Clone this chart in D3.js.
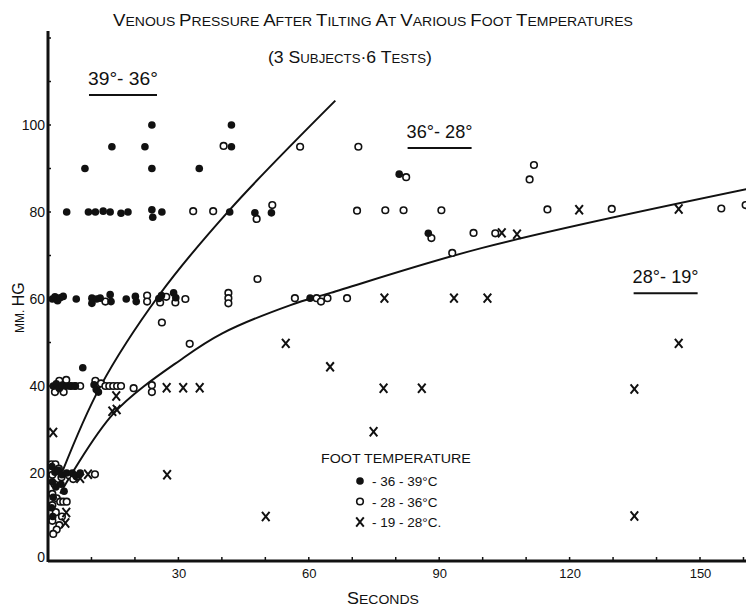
<!DOCTYPE html>
<html>
<head>
<meta charset="utf-8">
<script src="https://cdn.jsdelivr.net/npm/d3@7"></script>
<style>
  html, body { margin: 0; padding: 0; background: #fff; }
  svg { display: block; }
  text { font-family: "Liberation Sans", "DejaVu Sans", sans-serif; fill: #111; }
</style>
</head>
<body>
<svg id="chart" width="746" height="607"></svg>
<script>
// ---------------- DATA ----------------
// [seconds, mm Hg]
const warm = [ // 36-39 °C, filled dots
  [23.9,100],[42.2,100],
  [14.7,95],[22.3,95],[42.2,95],
  [8.5,90],[23.9,90],[34.8,90],
  [80.8,88.7],[87.5,75.1],
  [4.3,80],[9.3,80],[10.9,80],[12.7,80.2],[14.3,80],[16.8,79.7],[18.4,80],[23.9,80.5],[24.1,78.8],[26.2,80],[41.8,80],[47.6,79.8],[51.4,79.8],
  [60.3,60.2],
  [1.0,60],[1.6,60.5],[2.2,59.6],[2.8,60.3],[3.5,60.6],[6.5,60],[10.1,60.2],[10.1,59],[11.2,60],[12.0,60.2],[14.3,61],[14.5,59.4],[18.0,60],[20.1,60.6],[20.3,59.4],[25.5,60.1],[26.1,60.8],[28.9,61.4],[29.4,60.3],
  [8.0,44.2],
  [1.2,40],[1.9,40.5],[2.6,39.4],[3.3,40.2],[4.4,40],[5.4,40],[6.3,40],[10.6,40.3],[11.1,39.2],[11.6,38.6],
  [0.9,21.5],[1.6,20.2],[2.4,20.6],[3.2,19.6],[4.3,20],[5.6,20],[6.4,19.4],[7.4,20],[1.0,18],[1.8,16.8],[3.0,17.4],[3.7,15.8],[1.2,14.4],[0.8,12],[1.1,10]
];
const medium = [ // 28-36 °C, open circles
  [40.4,95.2],[58,95],[71.4,95],
  [111.8,90.8],[110.8,87.5],[82.4,88],
  [51.6,81.6],[48,78.4],
  [33.4,80.2],[38.0,80.2],[71.1,80.3],[77.6,80.4],[81.8,80.4],[90.5,80.4],[114.9,80.6],[129.7,80.7],[154.9,80.8],[160.5,81.6],
  [88.2,74],[97.9,75.2],[102.9,75.1],
  [93,70.6],
  [48.2,64.6],
  [13.2,59.4],[22.8,60.8],[22.8,59.4],[25.8,59.2],[27.2,60.5],[29.3,59.2],[31.6,60],[41.5,61.4],[41.5,60.2],[41.5,59],[56.8,60.2],[61.8,60.2],[62.8,59.4],[64.3,60.2],[68.8,60.2],
  [26.2,54.6],[32.6,49.7],
  [1.6,38.6],[2.6,41.2],[3.6,38.6],[4.2,41.4],[5.2,40],[6.2,40],[7.4,40],[10.9,41.2],[12.2,40.6],[13.2,40],[14.1,40],[15.0,40],[15.9,40],[16.8,40],[19.7,39.5],[23.9,40.2],[23.9,38.6],
  [10.8,19.7],[0.8,22],[1.7,22],[2.5,21],[3.1,19],[4.8,19.5],[5.8,18.6],[6.6,19.2],[1.0,19.6],[1.5,17.4],[1.0,15.2],[2.0,14.2],[1.0,12.6],[2.8,13.4],[3.5,13.4],[4.3,13.4],[3.2,10],[1.8,11],[1.0,9],[2.6,8],[2.0,7],[1.2,6]
];
const cool = [ // 19-28 °C, crosses
  [122.2,80.5],[145.1,80.7],
  [104.4,75.2],[107.9,74.9],
  [77.4,60.2],[93.4,60.2],[101.1,60.2],
  [54.7,49.8],[145.1,49.8],
  [64.9,44.4],
  [27.3,39.6],[31.1,39.6],[34.9,39.6],[77.2,39.5],[86,39.5],[134.9,39.3],
  [15.7,37.7],[14.8,34.2],[15.8,34.6],
  [1.2,29.3],[74.9,29.5],
  [27.4,19.6],[9.2,19.7],[7.4,18.8],
  [50.1,10],[134.9,10.1],
  [4.2,10.9],[4.0,8.5]
];
// fitted curves
const curveWarm = [[3.3,20.3],[12,39.8],[25.5,60.8],[41.8,80.5],[66.1,105.6]];
const curveMedium = [[2.8,15.3],[15.1,33.7],[31.2,46.5],[40.1,52.1],[55.8,58.6],[65,61.4],[99.7,71.7],[161,85.3]];

const xTicks = [30,60,90,120,150];
const yTicks = [0,20,40,60,80,100];
const xMinor = d3.range(10,161,10);
const yMinor = d3.range(10,121,10);

const title = "VENOUS PRESSURE AFTER TILTING AT VARIOUS FOOT  TEMPERATURES";
const legendTitle = "FOOT   TEMPERATURE";
const legendItems = [
  {type:"warm", label:"- 36 - 39°C"},
  {type:"medium", label:"- 28 - 36°C"},
  {type:"cool", label:"- 19  - 28°C."}
];
const bands = [
  {label:"39°- 36°", x:9.2, y:109.2, w:70},
  {label:"36°- 28°", x:82.5, y:97, w:66},
  {label:"28°- 19°", x:134.5, y:63.6, w:66}
];

// ---------------- CHART ----------------
const svg = d3.select("#chart");
const x = d3.scaleLinear().domain([0,150]).range([48,700]);
const y = d3.scaleLinear().domain([0,100]).range([560,125]);

function fitWidth(sel, x0, width) {
  const w = sel.node().getComputedTextLength();
  sel.attr("transform", `translate(${x0},0) scale(${width / w},1) translate(${-x0},0)`);
}
function smallCaps(sel, str, big, small) {
  const words = str.split(" ");
  words.forEach((wd, i) => {
    if (i > 0) sel.append("tspan").attr("font-size", small).text(" ");
    if (!wd.length) return;
    sel.append("tspan").attr("font-size", big).text(wd[0]);
    if (wd.length > 1) sel.append("tspan").attr("font-size", small).text(wd.slice(1));
  });
}

// title
const t1 = svg.append("text").attr("x",113).attr("y",26);
smallCaps(t1, title, 16, 12);
fitWidth(t1, 113, 520);

const t2 = svg.append("text").attr("x",268).attr("y",63);
t2.append("tspan").attr("font-size",16).text("(3 S");
t2.append("tspan").attr("font-size",12).text("UBJECTS");
t2.append("tspan").attr("font-size",16).text("·6 T");
t2.append("tspan").attr("font-size",12).text("ESTS");
t2.append("tspan").attr("font-size",16).text(")");
fitWidth(t2, 268, 164);

// axes
const axisG = svg.append("g");
axisG.append("line").attr("x1",x(0)).attr("x2",746).attr("y1",y(0)+1).attr("y2",y(0)+1)
  .attr("stroke","#111").attr("stroke-width",3);
axisG.append("line").attr("x1",x(0)).attr("x2",x(0)).attr("y1",y(0)+2).attr("y2",31)
  .attr("stroke","#111").attr("stroke-width",3);

const xAxis = d3.axisBottom(x).tickValues(xTicks).tickSize(0).tickPadding(0).tickFormat(d3.format("d"));
const gx = svg.append("g").attr("transform",`translate(0,${y(0)+6})`).call(xAxis);
gx.select(".domain").remove();
gx.selectAll("text").attr("font-size",13).attr("dy","0.9em").style("font-family","Liberation Sans, DejaVu Sans, sans-serif").attr("fill","#111");

const yAxis = d3.axisLeft(y).tickValues(yTicks).tickSize(0).tickPadding(3).tickFormat(d => String(d));
const gy = svg.append("g").attr("transform",`translate(${x(0)},0)`).call(yAxis);
gy.select(".domain").remove();
gy.selectAll("text").attr("font-size",14).style("font-family","Liberation Sans, DejaVu Sans, sans-serif").attr("fill","#111")
  .attr("dy", d => d === 0 ? "0.1em" : "0.32em");

// minor ticks
svg.append("g").selectAll("line").data(xMinor).join("line")
  .attr("x1",d=>x(d)).attr("x2",d=>x(d)).attr("y1",y(0)-3).attr("y2",y(0)+2)
  .attr("stroke","#111").attr("stroke-width",1.5);
svg.append("g").selectAll("line").data(yMinor).join("line")
  .attr("x1",x(0)).attr("x2",x(0)+3).attr("y1",d=>y(d)).attr("y2",d=>y(d))
  .attr("stroke","#111").attr("stroke-width",1.5);

// axis titles
const xt = svg.append("text").attr("x",347).attr("y",604);
xt.append("tspan").attr("font-size",16).text("S");
xt.append("tspan").attr("font-size",12.5).text("ECONDS");
fitWidth(xt, 347, 72);

const yt = svg.append("text").attr("transform","translate(24,333) rotate(-90)");
yt.append("tspan").attr("font-size",12).text("MM. ");
yt.append("tspan").attr("font-size",16).text("HG");

// curves
const line = d3.line().x(d=>x(d[0])).y(d=>y(d[1])).curve(d3.curveCatmullRom.alpha(0.5));
svg.append("path").datum(curveWarm).attr("d",line).attr("fill","none").attr("stroke","#111").attr("stroke-width",2);
svg.append("path").datum(curveMedium).attr("d",line).attr("fill","none").attr("stroke","#111").attr("stroke-width",2);

// band labels
bands.forEach(b => {
  const tx = svg.append("text").attr("x",x(b.x)).attr("y",y(b.y)).attr("font-size",18).text(b.label);
  fitWidth(tx, x(b.x), b.w);
  svg.append("line").attr("x1",x(b.x)+1).attr("x2",x(b.x)+b.w-1)
    .attr("y1",y(b.y)+10).attr("y2",y(b.y)+10).attr("stroke","#111").attr("stroke-width",2);
});

// markers
function drawMarker(g, type, cx, cy) {
  if (type === "warm") {
    g.append("circle").attr("cx",cx).attr("cy",cy).attr("r",3.8).attr("fill","#111");
  } else if (type === "medium") {
    g.append("circle").attr("cx",cx).attr("cy",cy).attr("r",3.3).attr("fill","#fff")
      .attr("stroke","#111").attr("stroke-width",1.6);
  } else {
    const a = 3.8, b = 4.6;
    g.append("path").attr("d",`M${cx-a},${cy-b}L${cx+a},${cy+b}M${cx+a},${cy-b}L${cx-a},${cy+b}`)
      .attr("stroke","#111").attr("stroke-width",2).attr("fill","none");
  }
}
const mg = svg.append("g");
medium.forEach(d => drawMarker(mg, "medium", x(d[0]), y(d[1])));
warm.forEach(d => drawMarker(mg, "warm", x(d[0]), y(d[1])));
cool.forEach(d => drawMarker(mg, "cool", x(d[0]), y(d[1])));

// legend
const lt = svg.append("text").attr("x",321).attr("y",463).attr("font-size",13.5).text(legendTitle);
fitWidth(lt, 321, 150);
legendItems.forEach((it, i) => {
  const cy = 481 + i * 20.5;
  drawMarker(svg, it.type, 360, cy);
  svg.append("text").attr("x",372).attr("y",cy+5).attr("font-size",13.5).text(it.label);
});
</script>
</body>
</html>
